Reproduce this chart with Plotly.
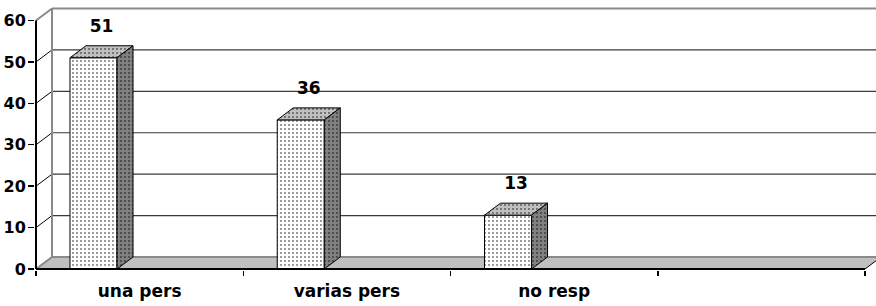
import plotly.graph_objects as go

# ---- data ----
categories = ["una pers", "varias pers", "no resp", ""]
values = [51, 36, 13]
y_ticks = [0, 10, 20, 30, 40, 50, 60]

# ---- geometry / style constants ----
W, H = 876, 306
M_L, M_R, M_T, M_B = 35, 0, 7, 36
SLOT_PX = 207.25          # pixels per category slot
PX_PER_UNIT = 4.142       # pixels per y unit
DEPTH_X_PX, DEPTH_Y_PX = 16, 12
BAR_OFFSET, BAR_WIDTH = -0.336, 0.227
LABEL_GAP_PX = 10

dxu = DEPTH_X_PX / SLOT_PX
dyu = DEPTH_Y_PX / PX_PER_UNIT
plot_w = W - M_L - M_R
plot_h = H - M_T - M_B
x_lo = -0.5 - 1 / SLOT_PX
x_hi = x_lo + plot_w / SLOT_PX
y_lo = -1 / PX_PER_UNIT
y_hi = y_lo + plot_h / PX_PER_UNIT

n_slots = len(categories)
x_left, x_right = -0.5, n_slots - 0.5
y_top = max(y_ticks)

FONT = "DejaVu Sans"
WALL = "#8a8a8a"
GRID = "#3a3a3a"


def dots(bg):
    return dict(shape=".", fgcolor="#000000", bgcolor=bg, size=4,
                solidity=0.1, fillmode="replace")


fig = go.Figure()


def line(xs, ys, color, width, xa="x"):
    fig.add_trace(go.Scatter(x=xs, y=ys, mode="lines", line=dict(color=color, width=width),
                             hoverinfo="skip", showlegend=False, xaxis=xa, yaxis="y"))


def poly(xs, ys, fill, line_color=None, line_width=0, pattern=None, xa="x"):
    kw = dict(x=xs, y=ys, mode="lines", fill="toself", fillcolor=fill,
              hoverinfo="skip", showlegend=False, xaxis=xa, yaxis="y")
    if line_color:
        kw["line"] = dict(color=line_color, width=line_width)
    else:
        kw["line"] = dict(width=0)
    if pattern:
        kw["fillpattern"] = pattern
    fig.add_trace(go.Scatter(**kw))


# ---- background (main subplot, drawn below the overlay) ----
# floor
poly([x_left, x_right, x_right + dxu, x_left + dxu, x_left],
     [0, 0, dyu, dyu, 0], "#c0c0c0")
line([x_left + dxu, x_right + dxu], [dyu, dyu], WALL, 2)
line([x_right, x_right + dxu], [0, dyu], "#000000", 1)

# back wall gridlines and left wall diagonals
for v in y_ticks[1:-1]:
    line([x_left + dxu, x_right + dxu], [v + dyu, v + dyu], GRID, 1.2)
    line([x_left, x_left + dxu], [v, v + dyu], "#000000", 1)
# wall outline
line([x_left, x_left + dxu], [0, dyu], WALL, 2)
line([x_left + dxu, x_left + dxu], [dyu, y_top + dyu], WALL, 2)
line([x_left, x_left + dxu], [y_top, y_top + dyu], WALL, 2)
line([x_left + dxu, x_right + dxu], [y_top + dyu, y_top + dyu], WALL, 2)

# ---- bars (overlay subplot) ----
bar_pos = list(range(len(values)))
fig.add_trace(go.Bar(x=bar_pos, y=values, offset=BAR_OFFSET, width=BAR_WIDTH,
                     marker=dict(color="white", line=dict(color="black", width=1),
                                 pattern=dots("white")),
                     hoverinfo="skip", showlegend=False, xaxis="x2", yaxis="y"))

# top and side faces
for i, v in zip(bar_pos, values):
    x0 = i + BAR_OFFSET
    x1 = x0 + BAR_WIDTH
    poly([x0, x1, x1 + dxu, x0 + dxu, x0], [v, v, v + dyu, v + dyu, v], "#c0c0c0",
         "black", 1, dots("#c0c0c0"), xa="x2")
    poly([x1, x1 + dxu, x1 + dxu, x1, x1], [0, dyu, v + dyu, v, 0], "#808080",
         "black", 1, dots("#808080"), xa="x2")

# front axis lines
line([x_left, x_left], [0, y_top], "#000000", 2, xa="x2")
line([x_left, x_right], [0, 0], "#000000", 2, xa="x2")

# data labels
fig.add_trace(go.Scatter(
    x=[i + BAR_OFFSET + BAR_WIDTH / 2 + dxu / 2 for i in bar_pos],
    y=[v + dyu + LABEL_GAP_PX / PX_PER_UNIT for v in values],
    mode="text", text=[str(v) for v in values], textposition="top center",
    textfont=dict(family=FONT, size=17, color="black", weight="bold"),
    hoverinfo="skip", showlegend=False, xaxis="x2", yaxis="y"))

fig.update_layout(
    width=W, height=H, margin=dict(l=M_L, r=M_R, t=M_T, b=M_B, autoexpand=False),
    paper_bgcolor="white", plot_bgcolor="white",
    xaxis=dict(range=[x_lo, x_hi], tickvals=list(range(n_slots)), ticktext=categories,
               ticks="", showline=False, showgrid=False, zeroline=False,
               automargin=False, ticklabelstandoff=9,
               tickfont=dict(family=FONT, size=17, color="black", weight="bold")),
    xaxis2=dict(range=[x_lo, x_hi], overlaying="x", anchor="y", side="bottom",
                tickvals=[k - 0.5 for k in range(n_slots + 1)], showticklabels=False,
                ticks="outside", ticklen=5, tickwidth=1.5, tickcolor="#000000",
                showline=False, showgrid=False, zeroline=False, automargin=False),
    yaxis=dict(range=[y_lo, y_hi], tickvals=y_ticks, ticks="outside", ticklen=6,
               tickwidth=1.5, tickcolor="#000000", showline=False, showgrid=False,
               zeroline=False, automargin=False, ticklabelstandoff=-1,
               tickfont=dict(family=FONT, size=16, color="black", weight="bold")),
    showlegend=False,
)

fig.write_html("out.html", config={"displayModeBar": False, "staticPlot": True},
               post_script="document.body.style.margin='0px';")
